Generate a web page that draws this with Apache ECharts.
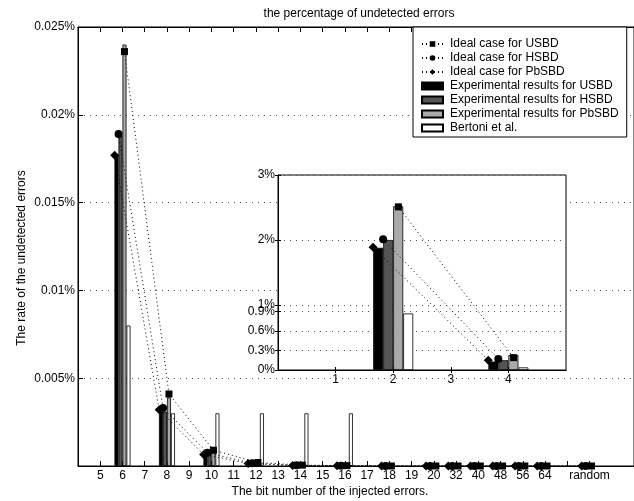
<!DOCTYPE html>
<html>
<head>
<meta charset="UTF-8">
<title>the percentage of undetected errors</title>
<script src="https://cdn.jsdelivr.net/npm/echarts@6/dist/echarts.min.js"></script>
<style>
  html, body { margin: 0; padding: 0; background: #fff; }
  #chart { width: 634px; height: 501px; }
</style>
</head>
<body>
<div id="chart"></div>
<script type="text/javascript">
// main chart: bit number of injected errors (positions 5..27 on the x axis)
var bitLabels = ['5', '6', '7', '8', '9', '10', '11', '12', '13', '14', '15', '16',
                 '17', '18', '19', '20', '32', '40', '48', '56', '64', '', 'random'];

// rates in %, null = nothing drawn
var idealUSBD  = [null, 0.0236, null, 0.0041, null, 0.0009, null, 0.0002, null, 0.00005, null, 0.00002,
                  null, 0, null, 0, 0, 0, 0, 0, 0, null, 0];
var idealHSBD  = [null, 0.0189, null, 0.0033, null, 0.00075, null, 0.00016, null, 0.00004, null, 0.00001,
                  null, 0, null, 0, 0, 0, 0, 0, 0, null, 0];
var idealPbSBD = [null, 0.0177, null, 0.0032, null, 0.00066, null, 0.00014, null, 0.00003, null, 0.00001,
                  null, 0, null, 0, 0, 0, 0, 0, 0, null, 0];
var expUSBD    = [null, 0.0177, null, 0.0031, null, 0.0006, null, 0.0001, null, null, null, null,
                  null, null, null, null, null, null, null, null, null, null, null];
var expHSBD    = [null, 0.0188, null, 0.0031, null, 0.0007, null, 0.0001, null, null, null, null,
                  null, null, null, null, null, null, null, null, null, null, null];
var expPbSBD   = [null, 0.0240, null, 0.0039, null, 0.0009, null, 0.0002, null, null, null, null,
                  null, null, null, null, null, null, null, null, null, null, null];
var bertoni    = [null, 0.008, null, 0.003, null, 0.003, null, 0.003, null, 0.003, null, 0.003,
                  null, null, null, null, null, null, null, null, null, null, null];
var mainYTicks = [0.005, 0.01, 0.015, 0.02, 0.025];

// inset chart
var insetLabels = ['1', '2', '3', '4'];
var insetIdealUSBD  = [null, 2.51, null, 0.19];
var insetIdealHSBD  = [null, 2.01, null, 0.17];
var insetIdealPbSBD = [null, 1.89, null, 0.15];
var insetExpUSBD    = [null, 1.88, null, 0.13];
var insetExpHSBD    = [null, 2.00, null, 0.15];
var insetExpPbSBD   = [null, 2.52, null, 0.23];
var insetBertoni    = [null, 0.87, null, 0.04];
var insetYTicks = [0, 0.3, 0.6, 0.9, 1, 2, 3];

var names = ['Ideal case for USBD', 'Ideal case for HSBD', 'Ideal case for PbSBD',
             'Experimental results for USBD', 'Experimental results for HSBD',
             'Experimental results for PbSBD', 'Bertoni et al.'];

var FONT = 'Liberation Sans, Arial, sans-serif';
var mainFirst = 5, insetFirst = 1;
// ideal markers sit a little off the group centre (in axis units)
var offSquare = 0.09, offCircle = -0.175, offDiamond = -0.35;

function pairs(arr, first, off) {
  var out = [];
  for (var i = 0; i < arr.length; i++) {
    if (arr[i] !== null) out.push([first + i + (off || 0), arr[i]]);
  }
  return out;
}
function positions(arr, first) {
  return arr.map(function (_, i) { return first + i; });
}
function pct(v) { return parseFloat(v.toFixed(4)) + '%'; }

var dotted = { color: '#000', width: 1, type: [1, 3] };
var gridDots = { show: true, lineStyle: { color: '#555', width: 1, type: [1, 5] } };
var tickIn = function (len, vals) {
  return { show: true, inside: true, length: len, customValues: vals, lineStyle: { color: '#000' } };
};
var lbl = { fontFamily: FONT, fontSize: 12, color: '#000' };

function lineSeries(name, arr, first, off, symbol, size, xi, yi) {
  return {
    name: name, type: 'line', xAxisIndex: xi, yAxisIndex: yi,
    data: pairs(arr, first, off), symbol: symbol, symbolSize: size,
    itemStyle: { color: '#000' }, lineStyle: dotted, z: 4, animation: false
  };
}
function barSeries(name, arr, first, color, w, xi, yi) {
  return {
    name: name, type: 'bar', xAxisIndex: xi, yAxisIndex: yi,
    data: pairs(arr, first, 0), barWidth: w, barGap: '0%',
    itemStyle: { color: color, borderColor: '#000', borderWidth: 0.8 }, z: 3, animation: false
  };
}

var mainPos = positions(bitLabels, mainFirst);
var insetPos = positions(insetLabels, insetFirst);

var legendData = names.map(function (n, i) {
  return i < 3 ? { name: n } : { name: n, icon: 'rect' };
});

var myChart = echarts.init(document.getElementById('chart'), null, { renderer: 'canvas' });

var option = {
  animation: false,
  backgroundColor: '#fff',
  textStyle: { fontFamily: FONT },
  graphic: [
    { type: 'text', x: 359, y: 14, style: { text: 'the percentage of undetected errors', font: '12px ' + FONT, fill: '#000', align: 'center', verticalAlign: 'middle' } },
    { type: 'text', x: 330, y: 492, style: { text: 'The bit number of the injected errors.', font: '12px ' + FONT, fill: '#000', align: 'center', verticalAlign: 'middle' } },
    { type: 'text', x: 22, y: 258, rotation: Math.PI / 2, style: { text: 'The rate of the undetected errors', font: '12px ' + FONT, fill: '#000', align: 'center', verticalAlign: 'middle' } }
  ],
  legend: {
    data: legendData,
    orient: 'vertical',
    left: 413, top: 27,
    padding: [10, 8, 2, 8],
    itemGap: 0,
    itemWidth: 21, itemHeight: 7,
    backgroundColor: '#fff',
    borderColor: '#000', borderWidth: 1, borderRadius: 0,
    textStyle: { fontFamily: FONT, fontSize: 12, color: '#000', lineHeight: 14, padding: [0, 0, 0, 2] },
    z: 10
  },
  grid: [
    { left: 78, top: 27, width: 557.5, height: 439, show: true, borderColor: '#000', borderWidth: 1, containLabel: false },
    { left: 278, top: 175, width: 288, height: 195, show: true, backgroundColor: '#fff', borderColor: '#000', borderWidth: 1, z: 1 }
  ],
  xAxis: [
    { type: 'value', gridIndex: 0, min: 4, max: 29, interval: 1, position: 'bottom',
      axisLine: { show: true, lineStyle: { color: '#000' } },
      axisTick: tickIn(5, mainPos),
      axisLabel: Object.assign({ margin: 4, customValues: mainPos,
        formatter: function (v) { var i = Math.round(v) - mainFirst; return bitLabels[i] || ''; } }, lbl),
      splitLine: { show: false } },
    { type: 'value', gridIndex: 0, min: 4, max: 29, interval: 1, position: 'top',
      axisLine: { show: true, lineStyle: { color: '#000' } },
      axisTick: tickIn(5, mainPos), axisLabel: { show: false }, splitLine: { show: false } },
    { type: 'value', gridIndex: 1, min: 0, max: 5, interval: 1, position: 'bottom', z: 1,
      axisLine: { show: true, lineStyle: { color: '#000' } },
      axisTick: tickIn(3, insetPos),
      axisLabel: Object.assign({ margin: 4, customValues: insetPos,
        formatter: function (v) { return insetLabels[Math.round(v) - insetFirst] || ''; } }, lbl),
      splitLine: { show: false } },
    { type: 'value', gridIndex: 1, min: 0, max: 5, interval: 1, position: 'top', z: 1,
      axisLine: { show: true, lineStyle: { color: '#000' } },
      axisTick: tickIn(3, insetPos), axisLabel: { show: false }, splitLine: { show: false } }
  ],
  yAxis: [
    { type: 'value', gridIndex: 0, min: 0, max: 0.025, interval: 0.005, position: 'left',
      axisLine: { show: true, lineStyle: { color: '#000' } },
      axisTick: tickIn(5, mainYTicks),
      axisLabel: Object.assign({ margin: 3, customValues: mainYTicks, formatter: pct }, lbl),
      splitLine: gridDots },
    { type: 'value', gridIndex: 1, min: 0, max: 3, position: 'left', z: 1,
      axisLine: { show: true, lineStyle: { color: '#000' } },
      axisTick: tickIn(3, insetYTicks),
      axisLabel: Object.assign({ margin: 3, customValues: insetYTicks, formatter: pct }, lbl),
      splitLine: gridDots },
    { type: 'value', gridIndex: 1, min: 0, max: 3, position: 'right', z: 1,
      axisLine: { show: true, lineStyle: { color: '#000' } },
      axisTick: tickIn(3, insetYTicks), axisLabel: { show: false }, splitLine: { show: false } }
  ],
  series: [
    lineSeries(names[0], idealUSBD, mainFirst, offSquare, 'rect', 7, 0, 0),
    lineSeries(names[1], idealHSBD, mainFirst, offCircle, 'circle', 8, 0, 0),
    lineSeries(names[2], idealPbSBD, mainFirst, offDiamond, 'diamond', 9, 0, 0),
    barSeries(names[3], expUSBD, mainFirst, '#000', 4, 0, 0),
    barSeries(names[4], expHSBD, mainFirst, '#555', 4, 0, 0),
    barSeries(names[5], expPbSBD, mainFirst, '#aaa', 4, 0, 0),
    barSeries(names[6], bertoni, mainFirst, '#fff', 4, 0, 0),

    lineSeries(names[0], insetIdealUSBD, insetFirst, offSquare, 'rect', 7, 2, 1),
    lineSeries(names[1], insetIdealHSBD, insetFirst, offCircle, 'circle', 8, 2, 1),
    lineSeries(names[2], insetIdealPbSBD, insetFirst, offDiamond, 'diamond', 9, 2, 1),
    barSeries(names[3], insetExpUSBD, insetFirst, '#000', 10, 2, 1),
    barSeries(names[4], insetExpHSBD, insetFirst, '#555', 10, 2, 1),
    barSeries(names[5], insetExpPbSBD, insetFirst, '#aaa', 10, 2, 1),
    barSeries(names[6], insetBertoni, insetFirst, '#fff', 10, 2, 1)
  ]
};

myChart.setOption(option);
</script>
</body>
</html>
